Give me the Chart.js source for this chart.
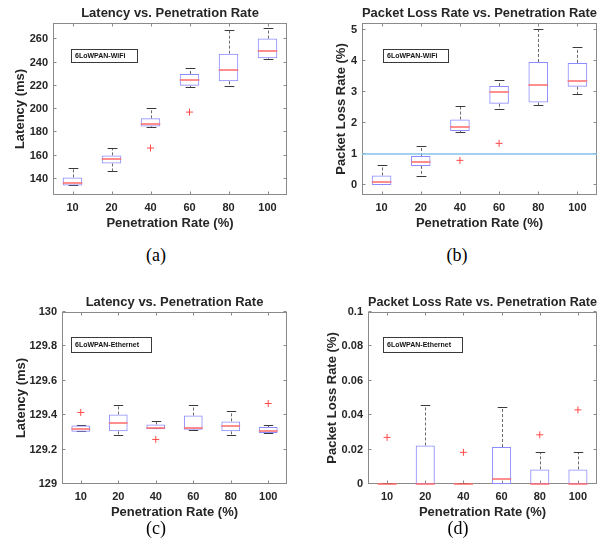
<!DOCTYPE html>
<html>
<head>
<meta charset="utf-8">
<script src="https://cdn.jsdelivr.net/npm/chart.js@4.4.1/dist/chart.umd.min.js"></script>
<style>
    body { margin: 0; background: #fff; width: 605px; height: 555px; position: relative; overflow: hidden; }
    canvas { position: absolute; }
    .cap { position: absolute; width: 60px; text-align: center; font-family: "Liberation Serif", serif; font-size: 18px; color: #000; }
</style>
</head>
<body>
<canvas id="chartA" width="302" height="240" style="left:0;top:0"></canvas>
<canvas id="chartB" width="303" height="240" style="left:302px;top:0"></canvas>
<canvas id="chartC" width="302" height="240" style="left:0;top:280px"></canvas>
<canvas id="chartD" width="303" height="240" style="left:302px;top:280px"></canvas>
<div class="cap" style="left:126px;top:245px">(a)</div>
<div class="cap" style="left:427px;top:245px">(b)</div>
<div class="cap" style="left:126px;top:518px">(c)</div>
<div class="cap" style="left:428px;top:518px">(d)</div>
<script>
const categories = ['10', '20', '40', '60', '80', '100'];

// (a) 6LoWPAN-WiFi latency (ms)
const wifiLatMin = [133.8, 145.7, 184.1, 217.9, 218.7, 241.9];
const wifiLatQ1  = [134.5, 153.4, 185.2, 220.2, 223.9, 243.7];
const wifiLatMed = [136.2, 156.8, 186.9, 224.8, 233.4, 249.7];
const wifiLatQ3  = [141.4, 160.3, 192.1, 230.2, 247.7, 260.6];
const wifiLatMax = [148.3, 165.4, 199.8, 234.2, 266.9, 268.6];
const wifiLatOut = [null, null, 166.6, 197.5, null, null];

// (b) 6LoWPAN-WiFi packet loss (%)
const wifiLossMin = [0, 0.25, 1.70, 2.44, 2.55, 2.92];
const wifiLossQ1  = [0, 0.62, 1.75, 2.63, 2.67, 3.18];
const wifiLossMed = [0.09, 0.76, 1.89, 3.00, 3.25, 3.37];
const wifiLossQ3  = [0.31, 0.94, 2.12, 3.20, 3.98, 3.95];
const wifiLossMax = [0.61, 1.23, 2.51, 3.38, 5.01, 4.43];
const wifiLossOut = [null, null, 0.80, 1.35, null, null];
const wifiLossTarget = 1;

// (c) 6LoWPAN-Ethernet latency (ms)
const ethLatMin = [129.300, 129.279, 129.319, 129.311, 129.277, 129.292];
const ethLatQ1  = [129.304, 129.306, 129.319, 129.315, 129.306, 129.296];
const ethLatMed = [129.319, 129.352, 129.325, 129.327, 129.335, 129.311];
const ethLatQ3  = [129.340, 129.404, 129.346, 129.398, 129.364, 129.331];
const ethLatMax = [129.340, 129.456, 129.358, 129.451, 129.416, 129.340];
const ethLatOut = [129.416, null, 129.259, null, null, 129.468];

// (d) 6LoWPAN-Ethernet packet loss (%)
const ethLossMin = [0, 0, 0, 0, 0, 0];
const ethLossQ1  = [0, 0, 0, 0, 0, 0];
const ethLossMed = [0, 0, 0, 0.0027, 0, 0];
const ethLossQ3  = [0, 0.0224, 0, 0.0215, 0.0085, 0.0085];
const ethLossMax = [0, 0.0451, 0, 0.0439, 0.0178, 0.0178];
const ethLossOut = [0.0271, null, 0.0184, null, 0.0286, 0.0431];

const textColor = '#262626';
const font = 'Liberation Sans, Arial, sans-serif';

// pixel row for a value, snapped so 1px lines stay crisp
const snap = (scale, v) => Math.round(scale.getPixelForValue(v)) - 0.5;

// axes frame, whiskers, medians and the text box, all placed with the chart scales
const boxPlugin = {
    id: 'boxParts',
    beforeDatasetsDraw(chart, args, o) {
        const ctx = chart.ctx, xs = chart.scales.x, ys = chart.scales.y, a = chart.chartArea;
        const bars = chart.getDatasetMeta(0).data;
        ctx.save();
        ctx.lineWidth = 1;
        // frame with inward ticks
        ctx.strokeStyle = '#8a8a8a';
        const l = Math.round(a.left) + 0.5, r = Math.round(a.right) - 0.5;
        const t = Math.round(a.top) + 0.5, b = Math.round(a.bottom) - 0.5;
        ctx.strokeRect(l, t, r - l, b - t);
        ctx.beginPath();
        ys.ticks.forEach((tk, k) => {
            const py = Math.round(ys.getPixelForTick(k)) - 0.5;
            ctx.moveTo(l, py); ctx.lineTo(l + 3, py);
            ctx.moveTo(r, py); ctx.lineTo(r - 3, py);
        });
        categories.forEach((c, i) => {
            const px = Math.round(xs.getPixelForValue(i)) + 0.5;
            ctx.moveTo(px, b); ctx.lineTo(px, b - 3);
            ctx.moveTo(px, t); ctx.lineTo(px, t + 3);
        });
        ctx.stroke();
        // whiskers and caps
        categories.forEach((c, i) => {
            const px = Math.round(xs.getPixelForValue(i)) + 0.5;
            const hw = bars[i].width / 4;
            const yLo = snap(ys, o.lo[i]);
            const yQ1 = ys.getPixelForValue(o.q1[i]);
            const yQ3 = ys.getPixelForValue(o.q3[i]);
            const yHi = snap(ys, o.hi[i]);
            ctx.strokeStyle = '#6a6a6a';
            ctx.setLineDash([3, 2]);
            ctx.beginPath();
            ctx.moveTo(px, yQ3); ctx.lineTo(px, yHi);
            ctx.moveTo(px, yQ1); ctx.lineTo(px, yLo);
            ctx.stroke();
            ctx.setLineDash([]);
            ctx.strokeStyle = '#3a3a3a';
            ctx.beginPath();
            ctx.moveTo(px - hw, yHi); ctx.lineTo(px + hw, yHi);
            ctx.moveTo(px - hw, yLo); ctx.lineTo(px + hw, yLo);
            ctx.stroke();
        });
        ctx.restore();
    },
    afterDatasetsDraw(chart, args, o) {
        const ctx = chart.ctx, xs = chart.scales.x, ys = chart.scales.y, a = chart.chartArea;
        const bars = chart.getDatasetMeta(0).data;
        ctx.save();
        ctx.lineWidth = 1.5;
        categories.forEach((c, i) => {
            const px = xs.getPixelForValue(i);
            const hw = bars[i].width / 2;
            const ym = Math.round(ys.getPixelForValue(o.med[i]));
            ctx.strokeStyle = '#ff6a6a';
            ctx.beginPath();
            ctx.moveTo(px - hw, ym); ctx.lineTo(px + hw, ym);
            ctx.stroke();
        });
        if (o.target != null) {
            const yt = Math.round(ys.getPixelForValue(o.target));
            ctx.strokeStyle = '#86c4ec';
            ctx.beginPath();
            ctx.moveTo(a.left, yt); ctx.lineTo(a.right, yt);
            ctx.stroke();
        }
        // text box
        const n = o.note;
        ctx.lineWidth = 1;
        ctx.strokeStyle = '#3a3a3a';
        ctx.strokeRect(Math.round(a.left + n.dx) + 0.5, Math.round(a.top + n.dy) + 0.5, n.w, n.h);
        ctx.fillStyle = '#111';
        ctx.font = 'bold 7px ' + font;
        ctx.textBaseline = 'middle';
        ctx.fillText(n.text, a.left + n.dx + 4, a.top + n.dy + n.h / 2 + 1);
        ctx.restore();
    }
};

function makeBoxChart(id, cfg) {
    return new Chart(document.getElementById(id), {
        type: 'bar',
        data: {
            labels: categories,
            datasets: [{
                data: cfg.q1.map((v, i) => [v, cfg.q3[i]]),
                backgroundColor: 'rgba(0,0,0,0)',
                borderColor: '#8c8cff',
                borderWidth: 1,
                borderSkipped: false,
                barPercentage: 0.5,
                categoryPercentage: 1,
                order: 2
            }, {
                type: 'line',
                data: cfg.out,
                showLine: false,
                pointStyle: 'cross',
                pointRadius: 3.5,
                pointBorderColor: '#ff4a4a',
                pointBorderWidth: 1,
                order: 1
            }]
        },
        options: {
            responsive: false,
            animation: false,
            devicePixelRatio: 1,
            layout: { padding: { left: 0, right: cfg.padRight, top: 0, bottom: 0 } },
            plugins: {
                legend: { display: false },
                tooltip: { enabled: false },
                title: {
                    display: true,
                    text: cfg.title,
                    fullSize: false,
                    color: textColor,
                    font: { family: font, size: 13, weight: 'bold' },
                    padding: { top: cfg.titleTop, bottom: cfg.titleBottom }
                },
                boxParts: {
                    lo: cfg.lo, q1: cfg.q1, med: cfg.med, q3: cfg.q3, hi: cfg.hi,
                    target: cfg.target, note: cfg.note
                }
            },
            scales: {
                x: {
                    offset: true,
                    grid: { display: false, drawTicks: false },
                    border: { display: false },
                    ticks: { color: textColor, padding: 6, font: { family: font, size: 11, weight: 'bold' } },
                    title: {
                        display: true,
                        text: 'Penetration Rate (%)',
                        color: textColor,
                        font: { family: font, size: 13, weight: 'bold' },
                        padding: { top: 0, bottom: cfg.xTitlePad }
                    },
                    afterFit: s => { s.height = cfg.xHeight; }
                },
                y: {
                    min: cfg.yMin,
                    max: cfg.yMax,
                    grid: { display: false, drawTicks: false },
                    border: { display: false },
                    ticks: {
                        stepSize: cfg.step,
                        includeBounds: false,
                        padding: 5,
                        color: textColor,
                        font: { family: font, size: 11, weight: 'bold' },
                        callback: v => String(+v.toFixed(3))
                    },
                    title: {
                        display: true,
                        text: cfg.yTitle,
                        color: textColor,
                        font: { family: font, size: 13, weight: 'bold' },
                        padding: { top: cfg.yTitlePad, bottom: 0 }
                    },
                    afterFit: s => { s.width = cfg.yWidth; }
                }
            }
        },
        plugins: [boxPlugin]
    });
}

makeBoxChart('chartA', {
    title: 'Latency vs. Penetration Rate', yTitle: 'Latency (ms)',
    lo: wifiLatMin, q1: wifiLatQ1, med: wifiLatMed, q3: wifiLatQ3, hi: wifiLatMax, out: wifiLatOut,
    yMin: 126.3, yMax: 274, step: 20,
    yWidth: 53, padRight: 15, xHeight: 45, titleTop: 5.8, titleBottom: 1.6, xTitlePad: 9.2, yTitlePad: 12.2,
    note: { text: '6LoWPAN-WiFi', dx: 18, dy: 26, w: 66, h: 13 }
});

makeBoxChart('chartB', {
    title: 'Packet Loss Rate vs. Penetration Rate', yTitle: 'Packet Loss Rate (%)',
    lo: wifiLossMin, q1: wifiLossQ1, med: wifiLossMed, q3: wifiLossQ3, hi: wifiLossMax, out: wifiLossOut,
    target: wifiLossTarget,
    yMin: -0.32, yMax: 5.24, step: 1,
    yWidth: 60, padRight: 8, xHeight: 45, titleTop: 5.8, titleBottom: 1.6, xTitlePad: 9.2, yTitlePad: 32,
    note: { text: '6LoWPAN-WiFi', dx: 21, dy: 26, w: 65, h: 13 }
});

makeBoxChart('chartC', {
    title: 'Latency vs. Penetration Rate', yTitle: 'Latency (ms)',
    lo: ethLatMin, q1: ethLatQ1, med: ethLatMed, q3: ethLatQ3, hi: ethLatMax, out: ethLatOut,
    yMin: 129, yMax: 130, step: 0.2,
    yWidth: 62, padRight: 15, xHeight: 36, titleTop: 14.2, titleBottom: 2.2, xTitlePad: 0.2, yTitlePad: 13.2,
    note: { text: '6LoWPAN-Ethernet', dx: 9, dy: 25, w: 80, h: 15 }
});

makeBoxChart('chartD', {
    title: 'Packet Loss Rate vs. Penetration Rate', yTitle: 'Packet Loss Rate (%)',
    lo: ethLossMin, q1: ethLossQ1, med: ethLossMed, q3: ethLossQ3, hi: ethLossMax, out: ethLossOut,
    yMin: 0, yMax: 0.1, step: 0.02,
    yWidth: 66, padRight: 8, xHeight: 36, titleTop: 14.2, titleBottom: 2.2, xTitlePad: 0.2, yTitlePad: 22.2,
    note: { text: '6LoWPAN-Ethernet', dx: 15, dy: 25, w: 79, h: 15 }
});
</script>
</body>
</html>
